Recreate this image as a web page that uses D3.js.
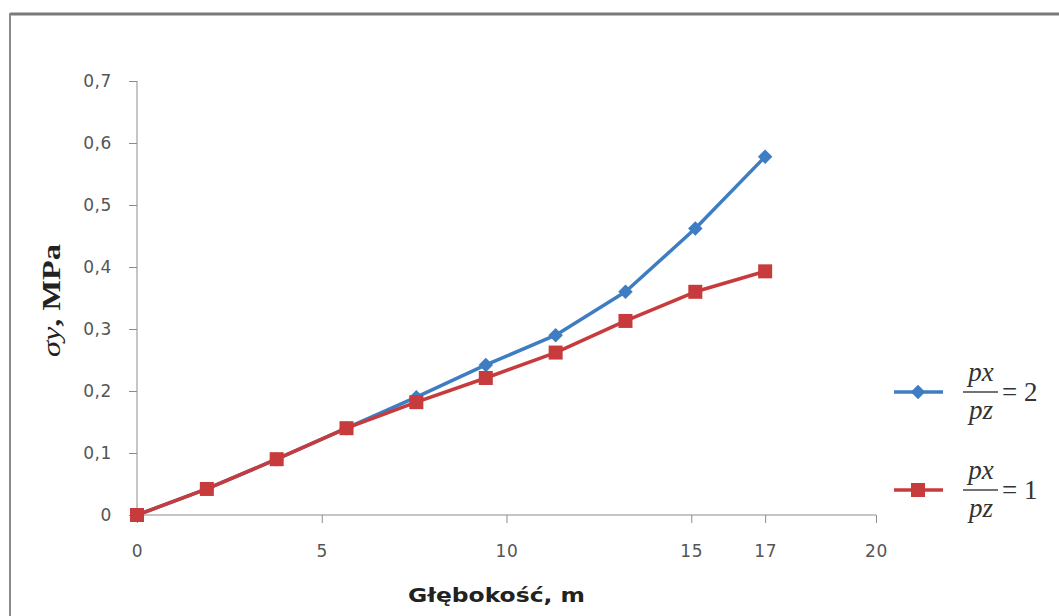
<!DOCTYPE html>
<html>
<head>
<meta charset="utf-8">
<script src="https://cdn.jsdelivr.net/npm/d3@7/dist/d3.min.js"></script>
<style>
  html, body { margin: 0; padding: 0; background: #fff; }
  svg { display: block; }
</style>
</head>
<body>
<svg id="chart" width="1059" height="616"></svg>
<script>
// ---- data ----
const depth = [0, 1.89, 3.78, 5.67, 7.56, 9.44, 11.33, 13.22, 15.11, 17];
const sigmaRatio2 = [0, 0.042, 0.09, 0.14, 0.19, 0.242, 0.29, 0.36, 0.462, 0.578];
const sigmaRatio1 = [0, 0.042, 0.09, 0.14, 0.182, 0.221, 0.262, 0.313, 0.36, 0.393];
const xTicks = [0, 5, 10, 15, 17, 20];
const yTicks = [0, 0.1, 0.2, 0.3, 0.4, 0.5, 0.6, 0.7];
const seriesNames = ["2", "1"];

const svg = d3.select("#chart");
const W = 1059, H = 616;

// frame
svg.append("rect").attr("x", 0).attr("y", 0).attr("width", W).attr("height", H).attr("fill", "#fff");
svg.append("line").attr("x1", 10).attr("x2", W).attr("y1", 14).attr("y2", 14)
  .attr("stroke", "#7a7a7a").attr("stroke-width", 3);
svg.append("line").attr("x1", 10).attr("x2", 10).attr("y1", 13).attr("y2", H)
  .attr("stroke", "#8a8a8a").attr("stroke-width", 2);

const x = d3.scaleLinear().domain([0, 20]).range([137, 876]);
const y = d3.scaleLinear().domain([0, 0.7]).range([515, 81]);

const fmt = d => d === 0 ? "0" : d3.format(".1f")(d).replace(".", ",");
const tickFont = "DejaVu Sans, Verdana, sans-serif";

// y axis
const yAxis = svg.append("g").attr("transform", `translate(${x(0)},0)`)
  .call(d3.axisLeft(y).tickValues(yTicks).tickFormat(fmt).tickSize(8).tickPadding(17));
yAxis.select(".domain").attr("stroke", "#8c8c8c").attr("d", `M0,${y(0.7)}V${y(0)}`);
yAxis.selectAll(".tick line").attr("stroke", "#8c8c8c");
yAxis.selectAll("text").attr("font-family", tickFont)
  .attr("font-size", 17).attr("fill", "#555").attr("letter-spacing", "0.6px");

// x axis
const xAxis = svg.append("g").attr("transform", `translate(0,${y(0)})`)
  .call(d3.axisBottom(x).tickValues(xTicks).tickFormat(d3.format("d")).tickSize(8).tickPadding(22));
xAxis.select(".domain").attr("stroke", "#8c8c8c").attr("d", `M${x(0)},0H${x(20)}`);
xAxis.selectAll(".tick line").attr("stroke", "#8c8c8c");
xAxis.selectAll("text").attr("font-family", tickFont)
  .attr("font-size", 17).attr("fill", "#555").attr("letter-spacing", "0.6px");

// axis titles
svg.append("text").attr("x", 408).attr("y", 602)
  .attr("font-family", "DejaVu Sans, Verdana, sans-serif").attr("font-weight", "bold")
  .attr("font-size", 20).attr("fill", "#222")
  .attr("textLength", 177).attr("lengthAdjust", "spacingAndGlyphs")
  .text("Głębokość, m");

const yt = svg.append("text").attr("transform", "translate(60,357) rotate(-90)")
  .attr("font-family", "Liberation Serif, Times New Roman, serif")
  .attr("font-size", 25).attr("fill", "#222")
  .attr("textLength", 113).attr("lengthAdjust", "spacingAndGlyphs");
yt.append("tspan").attr("font-style", "italic").text("σy");
yt.append("tspan").attr("font-weight", "bold").text(", MPa");

// series
const blue = "#3f7dc2", red = "#c73b3c";
const data2 = depth.map((d, i) => [d, sigmaRatio2[i]]);
const data1 = depth.map((d, i) => [d, sigmaRatio1[i]]);
const line = d3.line().x(d => x(d[0])).y(d => y(d[1]));
const diamond = d3.symbol(d3.symbolSquare, 105);

svg.append("path").datum(data2).attr("d", line).attr("fill", "none")
  .attr("stroke", blue).attr("stroke-width", 3.5).attr("stroke-linejoin", "round");
svg.append("g").selectAll("path").data(data2).join("path")
  .attr("transform", d => `translate(${x(d[0])},${y(d[1])}) rotate(45)`)
  .attr("d", diamond).attr("fill", blue);

svg.append("path").datum(data1).attr("d", line).attr("fill", "none")
  .attr("stroke", red).attr("stroke-width", 3.5).attr("stroke-linejoin", "round");
svg.append("g").selectAll("rect").data(data1).join("rect")
  .attr("x", d => x(d[0]) - 7).attr("y", d => y(d[1]) - 7)
  .attr("width", 14).attr("height", 14).attr("fill", red);

// legend
const legY = [392, 490];
const legColors = [blue, red];
const ff = "Liberation Serif, Times New Roman, serif";
legY.forEach((ly, i) => {
  const g = svg.append("g");
  g.append("line").attr("x1", 894).attr("x2", 943).attr("y1", ly).attr("y2", ly)
    .attr("stroke", legColors[i]).attr("stroke-width", 3.5);
  if (i === 0) {
    g.append("path").attr("transform", `translate(918,${ly}) rotate(45)`)
      .attr("d", diamond).attr("fill", blue);
  } else {
    g.append("rect").attr("x", 911).attr("y", ly - 7).attr("width", 14).attr("height", 14).attr("fill", red);
  }
  g.append("text").attr("x", 981).attr("y", ly - 11).attr("text-anchor", "middle")
    .attr("font-family", ff).attr("font-style", "italic").attr("font-size", 27)
    .attr("fill", "#333").text("px");
  g.append("line").attr("x1", 963).attr("x2", 998).attr("y1", ly).attr("y2", ly)
    .attr("stroke", "#444").attr("stroke-width", 1.5);
  g.append("text").attr("x", 981).attr("y", ly + 27).attr("text-anchor", "middle")
    .attr("font-family", ff).attr("font-style", "italic").attr("font-size", 27)
    .attr("fill", "#333").text("pz");
  g.append("text").attr("x", 1002).attr("y", ly + 9).attr("font-family", ff)
    .attr("font-size", 27).attr("fill", "#333").text("= " + seriesNames[i]);
});
</script>
</body>
</html>
